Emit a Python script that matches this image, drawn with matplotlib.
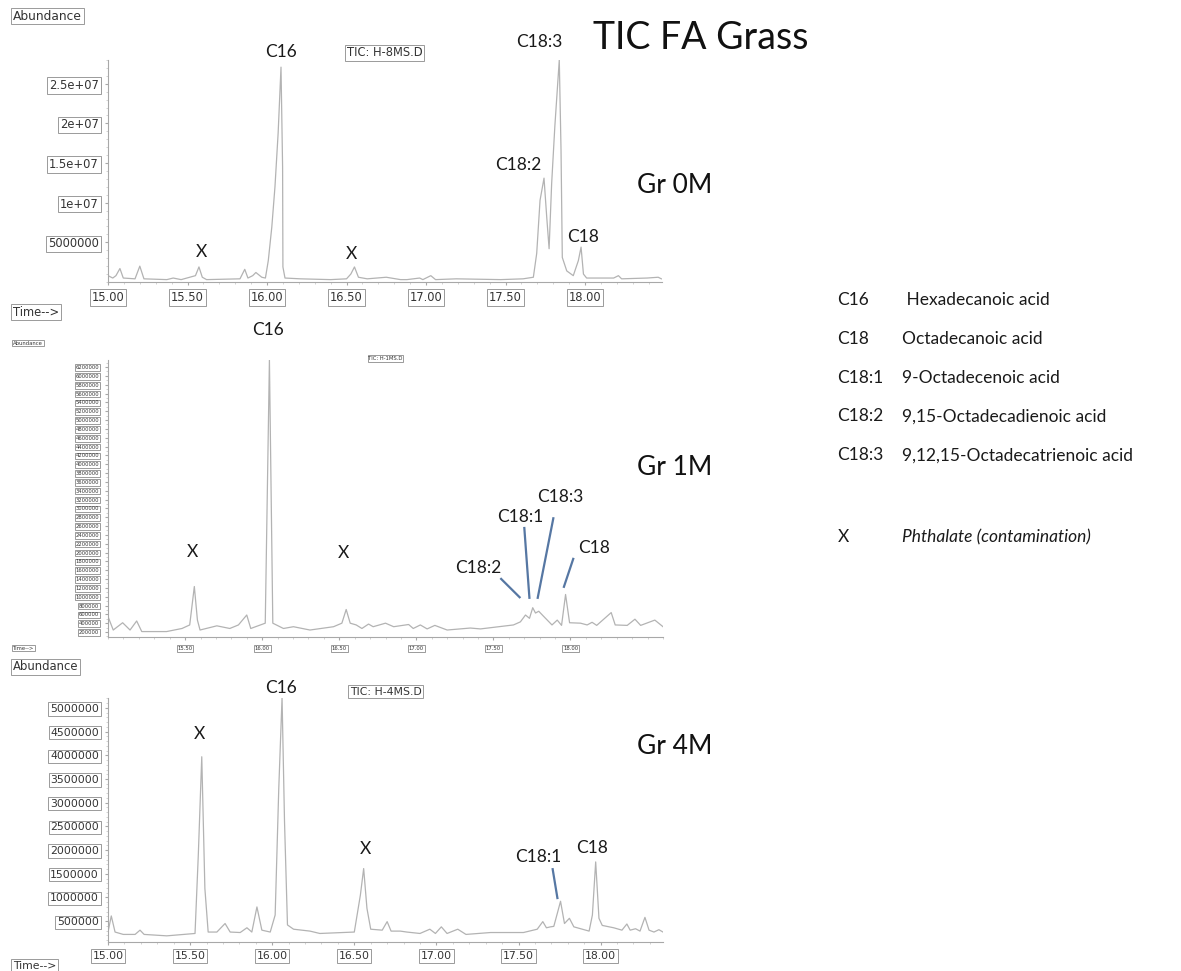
import numpy as np
import matplotlib
matplotlib.use('Agg')
import matplotlib.pyplot as plt
from matplotlib.ticker import MultipleLocator

# chromatogram traces: retention time (min), abundance (millions)
t_0m = [15.00, 15.03, 15.05, 15.075, 15.096, 15.17, 15.20, 15.226, 15.37, 15.41, 15.46, 15.55,
        15.572, 15.593, 15.62, 15.83, 15.86, 15.88, 15.91, 15.93, 15.967, 15.99, 16.008, 16.03,
        16.05, 16.07, 16.088, 16.098, 16.10, 16.113, 16.21, 16.40, 16.50, 16.527, 16.55, 16.575,
        16.63, 16.75, 16.84, 16.88, 16.96, 16.98, 17.03, 17.06, 17.19, 17.47, 17.61, 17.675,
        17.696, 17.717, 17.742, 17.759, 17.774, 17.79, 17.81, 17.838, 17.849, 17.857, 17.885,
        17.926, 17.958, 17.975, 17.99, 18.01, 18.18, 18.21, 18.23, 18.39, 18.46, 18.48]
a_0m = [0.8, 0.5, 0.8, 1.7, 0.5, 0.4, 2.0, 0.4, 0.3, 0.5, 0.3, 0.8,
        1.9, 0.6, 0.3, 0.4, 1.6, 0.5, 0.8, 1.2, 0.6, 0.5, 2.7, 6.9,
        12.0, 18.8, 27.1, 14.5, 1.9, 0.5, 0.4, 0.3, 0.4, 1.0, 1.9, 0.6,
        0.4, 0.6, 0.3, 0.3, 0.5, 0.3, 0.8, 0.3, 0.4, 0.3, 0.4, 0.6,
        3.6, 10.3, 13.1, 8.2, 4.2, 12.4, 19.6, 28.0, 16.6, 3.1, 1.4,
        0.8, 2.7, 4.4, 1.0, 0.5, 0.5, 0.8, 0.4, 0.5, 0.6, 0.4]

t_1m = [15.00, 15.034, 15.095, 15.143, 15.186, 15.219, 15.38, 15.48, 15.53, 15.56, 15.58, 15.597,
        15.706, 15.79, 15.846, 15.90, 15.926, 16.02, 16.047, 16.069, 16.138, 16.203, 16.26, 16.31,
        16.463, 16.517, 16.545, 16.571, 16.61, 16.647, 16.69, 16.72, 16.80, 16.853, 16.95, 16.98,
        17.026, 17.07, 17.12, 17.20, 17.35, 17.416, 17.63, 17.675, 17.708, 17.734, 17.755, 17.773,
        17.794, 17.827, 17.88, 17.914, 17.942, 17.968, 17.994, 18.065, 18.108, 18.14, 18.17,
        18.264, 18.29, 18.368, 18.418, 18.455, 18.547, 18.60]
a_1m = [0.55, 0.245, 0.41, 0.245, 0.45, 0.21, 0.21, 0.28, 0.36, 1.23, 0.47, 0.245,
        0.34, 0.28, 0.36, 0.585, 0.28, 0.40, 6.36, 0.40, 0.28, 0.32, 0.28, 0.245,
        0.32, 0.40, 0.71, 0.40, 0.36, 0.28, 0.38, 0.32, 0.40, 0.32, 0.37, 0.28,
        0.36, 0.27, 0.35, 0.245, 0.29, 0.27, 0.36, 0.43, 0.585, 0.51, 0.75, 0.63,
        0.67, 0.55, 0.36, 0.47, 0.35, 1.05, 0.41, 0.40, 0.36, 0.42, 0.35,
        0.64, 0.36, 0.35, 0.49, 0.35, 0.47, 0.32]

t_4m = [15.00, 15.02, 15.043, 15.093, 15.165, 15.195, 15.22, 15.358, 15.53, 15.55, 15.571, 15.59,
        15.61, 15.663, 15.713, 15.744, 15.805, 15.846, 15.876, 15.907, 15.937, 15.988, 16.018,
        16.04, 16.06, 16.075, 16.093, 16.13, 16.23, 16.29, 16.50, 16.537, 16.557, 16.577, 16.60,
        16.67, 16.70, 16.724, 16.78, 16.82, 16.90, 16.96, 16.994, 17.03, 17.065, 17.13, 17.18,
        17.33, 17.53, 17.614, 17.648, 17.67, 17.695, 17.715, 17.736, 17.756, 17.78, 17.81,
        17.837, 17.93, 17.95, 17.97, 17.99, 18.01, 18.08, 18.13, 18.16, 18.18, 18.213, 18.24,
        18.27, 18.295, 18.325, 18.355, 18.38]
a_4m = [0.27, 0.61, 0.27, 0.22, 0.22, 0.31, 0.22, 0.19, 0.24, 1.9, 3.97, 1.19,
        0.27, 0.27, 0.45, 0.27, 0.26, 0.36, 0.27, 0.80, 0.31, 0.27, 0.63,
        3.3, 5.22, 2.6, 0.42, 0.33, 0.29, 0.24, 0.27, 1.05, 1.61, 0.77, 0.33,
        0.31, 0.49, 0.29, 0.29, 0.27, 0.24, 0.33, 0.24, 0.38, 0.24, 0.33, 0.22,
        0.26, 0.26, 0.33, 0.49, 0.36, 0.38, 0.39, 0.66, 0.92, 0.45, 0.56,
        0.38, 0.29, 0.63, 1.75, 0.56, 0.41, 0.36, 0.31, 0.44, 0.31, 0.34, 0.29,
        0.58, 0.31, 0.27, 0.32, 0.27]

# peak labels: (text, label time, label abundance)
lab_0m = [('C16', 16.088, 29.05), ('X', 15.59, 3.73), ('X', 16.53, 3.48),
          ('C18:3', 17.71, 30.3), ('C18:2', 17.58, 14.75), ('C18', 17.99, 5.63)]
lab_1m = [('C16', 16.04, 7.04), ('X', 15.55, 2.01), ('X', 16.53, 1.99),
          ('C18:2', 17.40, 1.65), ('C18:1', 17.675, 2.80), ('C18:3', 17.935, 3.26),
          ('C18', 18.15, 2.10)]
lab_4m = [('C16', 16.055, 5.43), ('X', 15.56, 4.45), ('X', 16.567, 2.02),
          ('C18:1', 17.62, 1.85), ('C18', 17.95, 2.04)]
# leader lines: (t0, a0, t1, a1)
lead_1m = [(17.545, 1.42, 17.675, 0.97), (17.70, 2.58, 17.734, 0.95),
           (17.89, 2.80, 17.786, 0.95), (18.02, 1.88, 17.955, 1.20)]
lead_4m = [(17.707, 1.62, 17.738, 0.965)]

yt_0m = [5, 10, 15, 20, 25]
yl_0m = ['5000000', '1e+07', '1.5e+07', '2e+07', '2.5e+07']
yt_1m = list(np.arange(0.2, 6.21, 0.2))
yl_1m = [str(int(round(v * 1e6))) for v in yt_1m]
yt_4m = list(np.arange(0.5, 5.01, 0.5))
yl_4m = [str(int(round(v * 1e6))) for v in yt_4m]

legend_codes = ['C16', 'C18', 'C18:1', 'C18:2', 'C18:3']
legend_names = [' Hexadecanoic acid', 'Octadecanoic acid', '9-Octadecenoic acid',
                '9,15-Octadecadienoic acid', '9,12,15-Octadecatrienoic acid']

W, H = 1181, 971
fig = plt.figure(figsize=(W / 100, H / 100), dpi=100)
fig.patch.set_facecolor('white')

def fpos(x, y):
    return x / W, 1 - y / H

def boxed(fs):
    return dict(boxstyle='square,pad=0.15', fc='white', ec='#9a9a9a', lw=0.7)

def panel(x0, x1, ytop, ybot, xlim, ylim, t, a, yt, yl, xt, fs, labels, tic, leads, yminor):
    l, b = fpos(x0, ybot)
    ax = fig.add_axes([l, b, (x1 - x0) / W, (ybot - ytop) / H])
    ax.plot(t, a, color='#b3b3b3', lw=0.9)
    ax.set_xlim(*xlim)
    ax.set_ylim(*ylim)
    for s in ['top', 'right']:
        ax.spines[s].set_visible(False)
    for s in ['left', 'bottom']:
        ax.spines[s].set_color('#a8a8a8')
        ax.spines[s].set_linewidth(0.8)
    ax.set_xticks(xt)
    ax.set_xticklabels(['%.2f' % v for v in xt])
    ax.xaxis.set_minor_locator(MultipleLocator(0.1))
    ax.yaxis.set_minor_locator(MultipleLocator(yminor))
    ax.set_yticks(yt)
    ax.set_yticklabels(yl)
    ax.tick_params(axis='both', which='major', length=2.5, color='#a8a8a8',
                   labelsize=fs, labelcolor='#333333', pad=4)
    ax.tick_params(axis='both', which='minor', length=1.5, color='#cccccc')
    for lab in ax.get_xticklabels() + ax.get_yticklabels():
        lab.set_bbox(boxed(fs))
    for txt, lt, la in labels:
        ax.text(lt, la, txt, ha='center', va='center', fontsize=12.5,
                family=['Lato', 'DejaVu Sans'], color='#1a1a1a', clip_on=False)
    for t0, a0, t1, a1 in leads:
        ax.plot([t0, t1], [a0, a1], color='#5677a3', lw=1.6, clip_on=False,
                solid_capstyle='butt')
    ax.text(tic[1], tic[2], tic[0], ha='center', va='center', fontsize=fs,
            color='#333333', bbox=boxed(fs), clip_on=False)
    return ax

panel(108, 662, 60, 282, (15.0, 18.484), (0, 28.0), t_0m, a_0m, yt_0m, yl_0m,
      [15.0, 15.5, 16.0, 16.5, 17.0, 17.5, 18.0], 8.3, lab_0m, ('TIC: H-8MS.D', 16.74, 28.9), [], 1.0)
panel(108, 663, 360, 637, (15.0, 18.60), (0.087, 6.36), t_1m, a_1m, yt_1m, yl_1m,
      [15.5, 16.0, 16.5, 17.0, 17.5, 18.0], 3.8, lab_1m, ('TIC: H-1MS.D', 16.80, 6.40), lead_1m, 0.1)
panel(108, 663, 698, 942, (15.0, 18.38), (0.06, 5.21), t_4m, a_4m, yt_4m, yl_4m,
      [15.0, 15.5, 16.0, 16.5, 17.0, 17.5, 18.0], 7.8, lab_4m, ('TIC: H-4MS.D', 16.69, 5.34), lead_4m, 0.1)

# Abundance / Time labels
for y, fs in [(16, 8.8), (343, 3.8), (667, 8.4)]:
    fig.text(*fpos(13, y), 'Abundance', fontsize=fs, ha='left', va='center',
             color='#333333', bbox=boxed(fs))
for y, fs in [(312, 8.3), (648, 3.8), (966, 7.8)]:
    fig.text(*fpos(13, y), 'Time-->', fontsize=fs, ha='left', va='center',
             color='#333333', bbox=boxed(fs))

cal = ['Lato', 'DejaVu Sans']
fig.text(*fpos(593, 38), 'TIC FA Grass', fontsize=27, family=cal, ha='left', va='center', color='#111111')
for y, s in [(185, 'Gr 0M'), (467, 'Gr 1M'), (747, 'Gr 4M')]:
    fig.text(*fpos(637, y), s, fontsize=19, family=cal, ha='left', va='center', color='#111111')

for i, (c, n) in enumerate(zip(legend_codes, legend_names)):
    y = 300 + i * 38.8
    fig.text(*fpos(837, y), c, fontsize=12.5, family=cal, ha='left', va='center', color='#1a1a1a')
    fig.text(*fpos(902, y), n, fontsize=12.5, family=cal, ha='left', va='center', color='#1a1a1a')
fig.text(*fpos(838, 537), 'X', fontsize=12.5, family=cal, ha='left', va='center', color='#1a1a1a')
fig.text(*fpos(902, 537), 'Phthalate (contamination)', fontsize=12.5, family=cal, style='italic',
         ha='left', va='center', color='#1a1a1a')

fig.savefig('out.png', dpi=100)
